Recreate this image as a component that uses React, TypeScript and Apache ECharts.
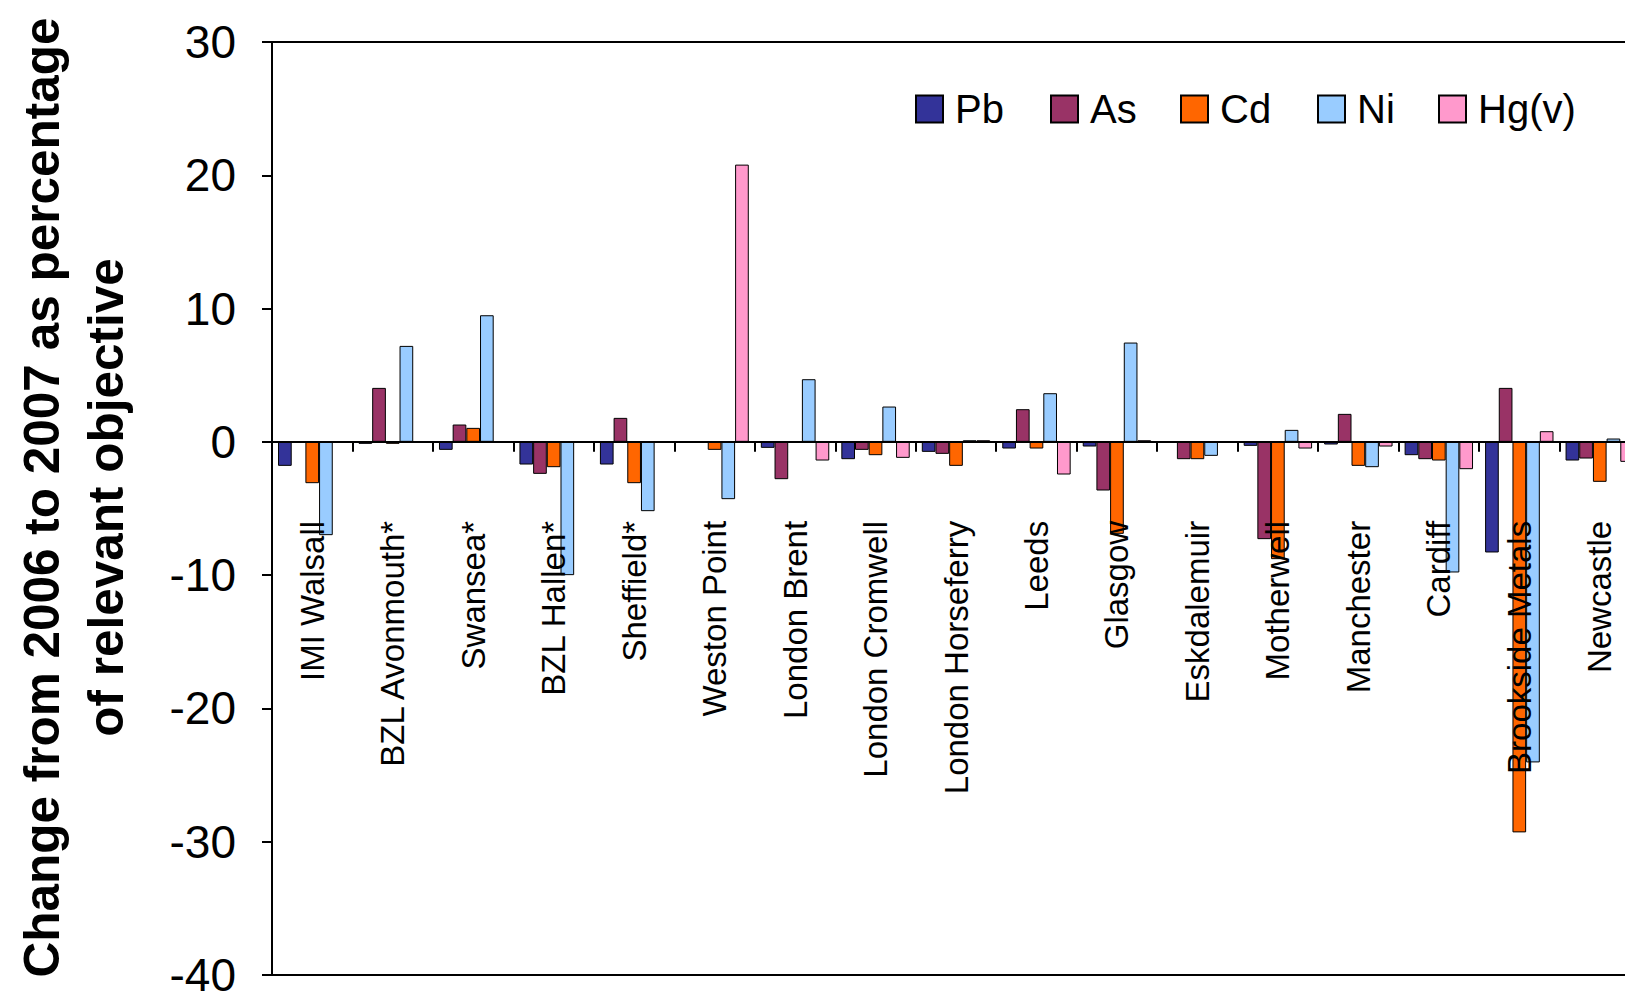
import { useEffect, useRef } from 'react';
import * as echarts from 'echarts';

const categories = [
  'IMI Walsall', 'BZL Avonmouth*', 'Swansea*', 'BZL Hallen*', 'Sheffield*', 'Weston Point',
  'London Brent', 'London Cromwell', 'London Horseferry', 'Leeds', 'Glasgow', 'Eskdalemuir',
  'Motherwell', 'Manchester', 'Cardiff', 'Brookside Metals', 'Newcastle',
];

const seriesNames = ['Pb', 'As', 'Cd', 'Ni', 'Hg(v)'];

const pbValues = [-1.8, -0.15, -0.6, -1.7, -1.7, null, -0.45, -1.3, -0.75, -0.5, -0.35, null, -0.3, -0.2, -1.0, -8.3, -1.4];
const asValues = [null, 4.05, 1.3, -2.4, 1.8, null, -2.8, -0.6, -0.9, 2.45, -3.65, -1.3, -7.3, 2.1, -1.3, 4.05, -1.25];
const cdValues = [-3.1, -0.15, 1.05, -1.9, -3.1, -0.6, null, -1.0, -1.8, -0.5, -6.9, -1.3, -8.8, -1.8, -1.4, -29.3, -3.0];
const niValues = [-7.0, 7.2, 9.5, -10.0, -5.2, -4.3, 4.7, 2.65, 0.12, 3.65, 7.45, -1.05, 0.9, -1.9, -9.8, -24.05, 0.25];
const hgValues = [null, null, null, null, null, 20.8, -1.4, -1.2, 0.12, -2.45, 0.12, null, -0.5, -0.35, -2.05, 0.8, -1.5];

const seriesValues = [pbValues, asValues, cdValues, niValues, hgValues];
const seriesColors = ['#333399', '#993366', '#FF6600', '#99CCFF', '#FF99CC'];

const yMin = -40;
const yMax = 30;
const yInterval = 10;

const yTitle = 'Change from 2006 to 2007 as percentage\nof relevant objective';

const legendLefts = [915, 1050, 1180, 1317, 1438];

const FONT = '"Liberation Sans", Arial, sans-serif';

const GRID_TOP = 42;
const GRID_HEIGHT = 933;

export default function App() {
  const ref = useRef<HTMLDivElement>(null);

  useEffect(() => {
    if (!ref.current) return;
    const chart = echarts.init(ref.current, null, { renderer: 'svg' });
    // place the category axis on the zero line of the value axis
    const zeroOffset = -GRID_HEIGHT * (0 - yMin) / (yMax - yMin);
    const option: any = {
      animation: false,
      backgroundColor: '#ffffff',
      textStyle: { fontFamily: FONT, color: '#000' },
      grid: {
        left: 272,
        top: GRID_TOP,
        width: 1368,
        height: GRID_HEIGHT,
        show: true,
        borderColor: '#000',
        borderWidth: 2,
        backgroundColor: 'transparent',
        containLabel: false,
        outerBoundsMode: 'none',
      },
      legend: seriesNames.map((name, i) => ({
        data: [name],
        left: legendLefts[i],
        top: 89,
        icon: 'rect',
        itemWidth: 27,
        itemHeight: 27,
        padding: 0,
        textStyle: {
          fontFamily: FONT,
          fontSize: 40,
          color: '#000',
          lineHeight: 40,
          padding: [0, 0, 0, 7],
        },
      })),
      xAxis: {
        type: 'category',
        data: categories,
        position: 'bottom',
        offset: zeroOffset,
        z: 10,
        axisLine: { onZero: false, lineStyle: { color: '#000', width: 2 } },
        axisTick: { show: true, inside: false, length: 10, lineStyle: { color: '#000', width: 2 } },
        axisLabel: {
          interval: 0,
          rotate: 90,
          margin: 79,
          fontSize: 33,
          fontFamily: FONT,
          color: '#000',
        },
        splitLine: { show: false },
      },
      yAxis: {
        type: 'value',
        min: yMin,
        max: yMax,
        interval: yInterval,
        name: yTitle,
        nameLocation: 'middle',
        nameRotate: 90,
        nameGap: 135,
        nameTextStyle: {
          fontFamily: FONT,
          fontSize: 49.5,
          fontWeight: 'bold',
          lineHeight: 64,
          color: '#000',
          padding: [0, 0, 0, 22],
        },
        axisLine: { show: true, lineStyle: { color: '#000', width: 2 } },
        axisTick: { show: true, inside: false, length: 10, lineStyle: { color: '#000', width: 2 } },
        axisLabel: { fontSize: 46, lineHeight: 42, fontFamily: FONT, color: '#000', margin: 36 },
        splitLine: { show: false },
      },
      series: seriesNames.map((name, i) => ({
        name,
        type: 'bar',
        data: seriesValues[i],
        barGap: '0%',
        barCategoryGap: '15%',
        itemStyle: { color: seriesColors[i], borderColor: '#000', borderWidth: 1 },
      })),
    };
    chart.setOption(option);
    return () => chart.dispose();
  }, []);

  return (
    <div
      ref={ref}
      style={{ position: 'fixed', left: 0, top: 0, width: 1625, height: 998, background: '#fff' }}
    />
  );
}
